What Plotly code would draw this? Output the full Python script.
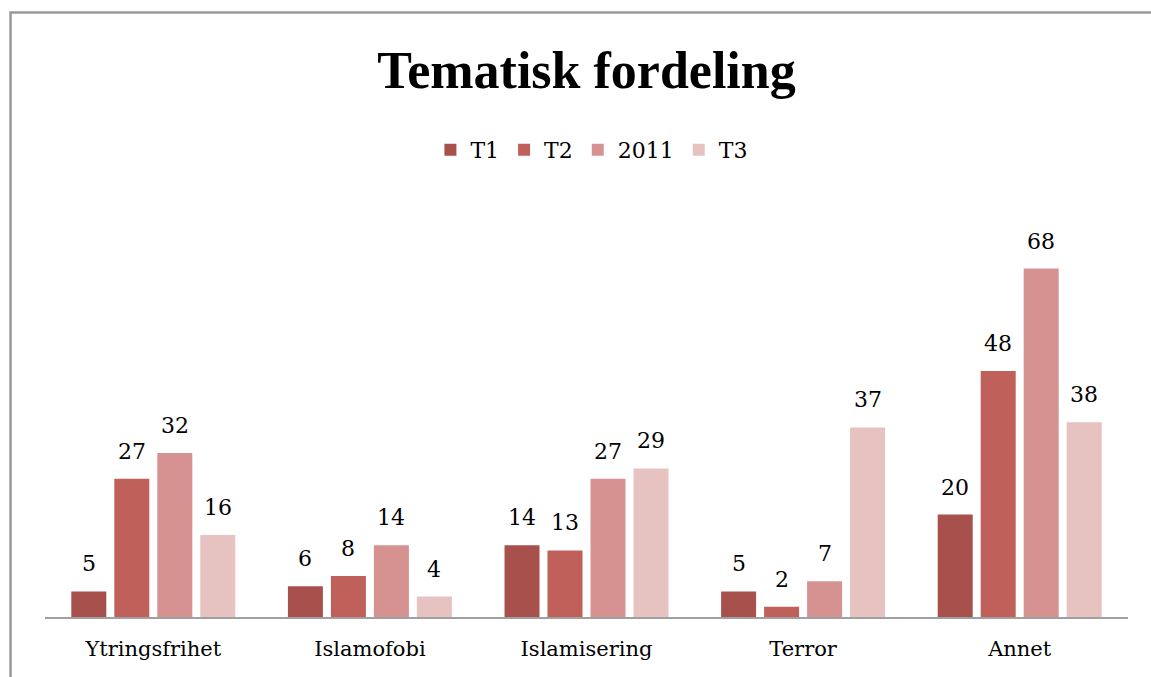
import plotly.graph_objects as go

categories = ["Ytringsfrihet", "Islamofobi", "Islamisering", "Terror", "Annet"]
series_names = ["T1", "T2", "2011", "T3"]
t1 = [5, 6, 14, 5, 20]
t2 = [27, 8, 13, 2, 48]
y2011 = [32, 14, 27, 7, 68]
t3 = [16, 4, 29, 37, 38]
series_values = [t1, t2, y2011, t3]
colors = ["#A8514C", "#C0605A", "#D59291", "#E6C2C0"]

FONT = "DejaVu Serif"
TFONT = "Liberation Serif"
W, H = 1151, 677
ML, MR, MT, MB = 45, 23, 207, 60

fig = go.Figure()
for name, vals, col in zip(series_names, series_values, colors):
    fig.add_trace(go.Bar(name=name, x=categories, y=vals, marker=dict(color=col, line=dict(width=0))))

# data labels as annotations above bars
plot_w = W - ML - MR
slot = plot_w / len(categories)
bargap = 0.206
sub = slot * (1 - bargap) / len(series_names)
for i, vals in enumerate(series_values):
    off = (i - (len(series_names) - 1) / 2) * sub
    for c, v in zip(categories, vals):
        fig.add_annotation(x=c, y=v, text=str(v), showarrow=False, xshift=off,
                           yanchor="bottom", yshift=13,
                           font=dict(family=FONT, size=22, color="#000"))

fig.update_layout(
    width=W, height=H,
    margin=dict(l=ML, r=MR, t=MT, b=MB),
    paper_bgcolor="white", plot_bgcolor="white",
    barmode="group", bargap=bargap, bargroupgap=0.186,
    title=dict(text="<b>Tematisk fordeling</b>", x=0.5, xanchor="center", xref="paper",
               y=1 - 70 / H, yanchor="middle", yref="container",
               font=dict(family=TFONT, size=52, color="#000")),
    legend=dict(orientation="h", x=0.505, xanchor="center", xref="paper",
                y=1 - 150 / H, yanchor="middle", yref="container",
                font=dict(family=FONT, size=22, color="#000"),
                itemclick=False),
    xaxis=dict(showline=True, linecolor="#A0A0A0", linewidth=2, ticks="",
               tickfont=dict(family=FONT, size=21, color="#000"),
               ticklabelstandoff=12, showgrid=False),
    yaxis=dict(range=[0, 80], visible=False, showgrid=False, zeroline=False),
    shapes=[dict(type="rect", xref="paper", yref="paper",
                 x0=(10.5 - ML) / plot_w, x1=1.2,
                 y0=-0.5, y1=(H - MB - 12.5) / (H - MT - MB),
                 line=dict(color="#999999", width=2.5), fillcolor="rgba(0,0,0,0)",
                 layer="below")],
)

fig.write_html("out.html", config={"displayModeBar": False},
               post_script="document.body.style.margin='0';document.body.style.overflow='hidden';")
